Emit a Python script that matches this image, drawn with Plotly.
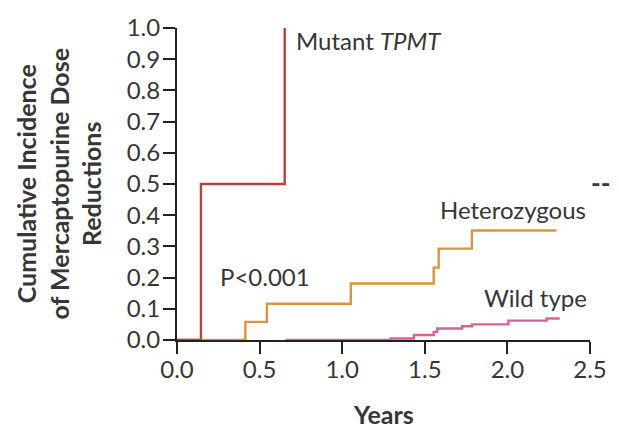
import plotly.graph_objects as go

# Data (years, cumulative incidence)
mutant_x = [0.0, 0.145, 0.145, 0.652, 0.652]
mutant_y = [0.0, 0.0, 0.5, 0.5, 1.0]

het_x = [0.0, 0.414, 0.414, 0.544, 0.544, 1.052, 1.052, 1.554, 1.554, 1.584, 1.584, 1.785, 1.785, 2.297]
het_y = [0.0, 0.0, 0.058, 0.058, 0.116, 0.116, 0.181, 0.181, 0.232, 0.232, 0.293, 0.293, 0.351, 0.351]

wild_x = [0.657, 1.293, 1.293, 1.434, 1.434, 1.554, 1.554, 1.575, 1.575, 1.726, 1.726, 1.786, 1.786,
          2.006, 2.006, 2.237, 2.237, 2.317]
wild_y = [0.0, 0.0, 0.005, 0.005, 0.016, 0.016, 0.026, 0.026, 0.037, 0.037, 0.044, 0.044, 0.050,
          0.050, 0.062, 0.062, 0.069, 0.069]

x_ticks = [0.0, 0.5, 1.0, 1.5, 2.0, 2.5]
y_ticks = [0.0, 0.1, 0.2, 0.3, 0.4, 0.5, 0.6, 0.7, 0.8, 0.9, 1.0]

FONT = "Lato"
TXT = "#363636"
FS = 24

fig = go.Figure()
fig.add_trace(go.Scatter(x=het_x, y=het_y, mode="lines",
                         line=dict(color="#d9953f", width=2.4), hoverinfo="skip"))
fig.add_trace(go.Scatter(x=wild_x, y=wild_y, mode="lines",
                         line=dict(color="#de5e9a", width=2.4), hoverinfo="skip"))
fig.add_trace(go.Scatter(x=mutant_x, y=mutant_y, mode="lines",
                         line=dict(color="#b3453c", width=2.4), hoverinfo="skip"))

fig.update_layout(
    width=619, height=430,
    margin=dict(l=177, r=27, t=24, b=90),
    paper_bgcolor="white", plot_bgcolor="white",
    showlegend=False,
    font=dict(family=FONT, size=FS, color=TXT),
    xaxis=dict(range=[0, 2.5], tickvals=x_ticks, ticktext=[f"{v:.1f}" for v in x_ticks],
               showgrid=False, zeroline=False, showline=True, linecolor="#222222", linewidth=2,
               ticks="outside", ticklen=12, tickwidth=2, tickcolor="#222222",
               ticklabelstandoff=-5,
               tickfont=dict(family=FONT, size=FS, color=TXT)),
    yaxis=dict(range=[0, 1.0], tickvals=y_ticks, ticktext=[f"{v:.1f}" for v in y_ticks],
               showgrid=False, zeroline=False, showline=True, linecolor="#222222", linewidth=2,
               ticks="outside", ticklen=12, tickwidth=2, tickcolor="#222222",
               ticklabelstandoff=-2,
               tickfont=dict(family=FONT, size=FS, color=TXT)),
)

annos = [
    dict(x=0.71, y=0.96, xref="x", yref="y", text="Mutant <i>TPMT</i>", xanchor="left",
         yanchor="middle", showarrow=False, font=dict(size=FS, color=TXT)),
    dict(x=2.036, y=0.418, xref="x", yref="y", text="Heterozygous", xanchor="center",
         yanchor="middle", showarrow=False, font=dict(size=FS, color=TXT)),
    dict(x=2.17, y=0.137, xref="x", yref="y", text="Wild type", xanchor="center",
         yanchor="middle", showarrow=False, font=dict(size=FS, color=TXT)),
    dict(x=0.53, y=0.203, xref="x", yref="y", text="P<0.001", xanchor="center",
         yanchor="middle", showarrow=False, font=dict(size=FS, color=TXT)),
    dict(x=0.501, y=-0.237, xref="paper", yref="paper", text="<b>Years</b>", xanchor="center",
         yanchor="middle", showarrow=False, font=dict(size=25, color=TXT)),
    dict(x=-0.287, y=0.503, xref="paper", yref="paper",
         text="<b>Cumulative Incidence<br>of Mercaptopurine Dose<br>Reductions</b>",
         textangle=-90, xanchor="center", yanchor="middle", showarrow=False,
         font=dict(size=25, color=TXT)),
    dict(x=1.053, y=0.503, xref="paper", yref="paper", text="<b>--</b>", xanchor="right",
         yanchor="middle", showarrow=False, font=dict(size=26, color=TXT)),
]
fig.update_layout(annotations=annos)

fig.write_html("out.html")
